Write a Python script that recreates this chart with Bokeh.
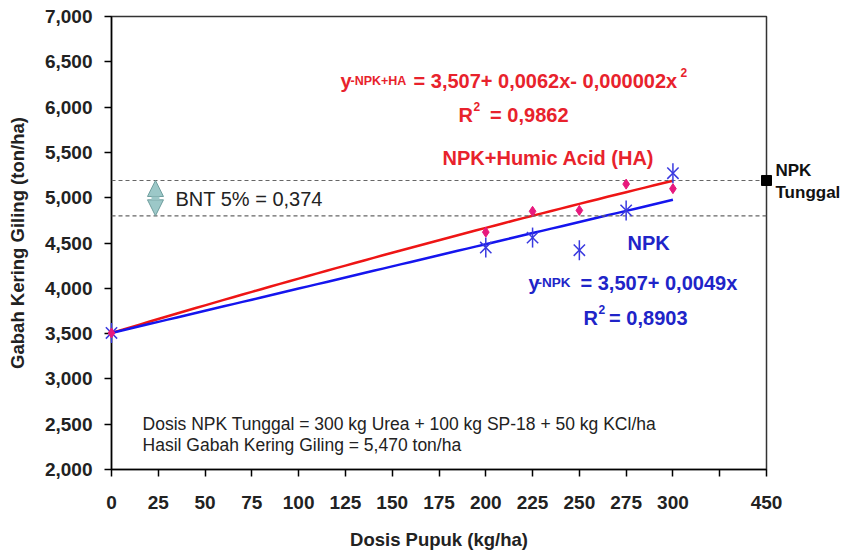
import numpy as np
from bokeh.plotting import figure
from bokeh.models import Range1d, FixedTicker, NumeralTickFormatter, Span, Label, Arrow, NormalHead
from bokeh.core.properties import value
from bokeh.embed import file_html
from bokeh.resources import INLINE

# ---------------- data ----------------
dose = [0, 200, 225, 250, 275, 300]
yield_npk = [3507, 4450, 4560, 4420, 4860, 5270]
yield_npk_ha = [3507, 4620, 4850, 4860, 5150, 5100]

x_ticks = [0, 25, 50, 75, 100, 125, 150, 175, 200, 225, 250, 275, 300, 325, 350]
x_tick_labels = ["0", "25", "50", "75", "100", "125", "150", "175", "200", "225",
                 "250", "275", "300", "", "450"]
y_ticks = [2000, 2500, 3000, 3500, 4000, 4500, 5000, 5500, 6000, 6500, 7000]

fit_npk_ha = [3507, 6.2, -0.002]   # y = 3,507 + 0,0062x - 0,000002x^2 (ton/ha)
fit_npk = [3507, 4.9]              # y = 3,507 + 0,0049x (ton/ha)
fit_x_end = 300

bnt_upper = 5190
bnt_lower = 4800
tunggal_pos = 350     # axis position labelled "450"
tunggal_yield = 5190
tunggal_text = ["NPK", "Tunggal"]

FONT = "Liberation Sans"
RED = "#e8222c"
BLUE = "#2024c8"

p = figure(width=849, height=554, x_range=Range1d(0, 350), y_range=Range1d(2000, 7000),
           output_backend="svg", toolbar_location=None,
           min_border_left=111, min_border_right=83, min_border_top=16, min_border_bottom=85)
p.background_fill_color = "white"
p.border_fill_color = "white"
p.outline_line_color = "#333333"
p.outline_line_width = 1.5
p.xgrid.visible = False
p.ygrid.visible = False

for ax in (p.xaxis[0], p.yaxis[0]):
    ax.axis_line_color = "black"
    ax.axis_line_width = 1.5
    ax.major_tick_line_color = "black"
    ax.major_tick_line_width = 1.5
    ax.major_tick_out = 7
    ax.major_tick_in = 0
    ax.minor_tick_line_color = None
    ax.major_label_text_font = FONT
    ax.major_label_text_font_style = "bold"
    ax.major_label_text_font_size = "19px"
    ax.major_label_text_color = "#222222"
    ax.axis_label_text_font = FONT
    ax.axis_label_text_font_style = "bold"
    ax.axis_label_text_font_size = "18.5px"
    ax.axis_label_text_color = "#222222"

p.xaxis.ticker = FixedTicker(ticks=x_ticks)
p.xaxis.major_label_overrides = {t: l for t, l in zip(x_ticks, x_tick_labels)}
p.xaxis.major_label_standoff = 19
p.xaxis.axis_label = "Dosis Pupuk (kg/ha)"
p.xaxis.axis_label_standoff = 17

p.yaxis.ticker = FixedTicker(ticks=y_ticks)
p.yaxis.formatter = NumeralTickFormatter(format="0,0")
p.yaxis.major_label_standoff = 12
p.yaxis.axis_label = "Gabah Kering Giling (ton/ha)"
p.yaxis.axis_label_standoff = 14

# BNT dashed lines
for yv in (bnt_upper, bnt_lower):
    p.add_layout(Span(location=yv, dimension="width", line_color="#666666",
                      line_dash="4 3", line_width=1.2))

# trend lines
xf = np.linspace(0, fit_x_end, 61)
p.line(xf, fit_npk_ha[0] + fit_npk_ha[1] * xf + fit_npk_ha[2] * xf ** 2,
       line_color="#ee1515", line_width=2.5)
p.line(xf, fit_npk[0] + fit_npk[1] * xf, line_color="#1515ee", line_width=2.5)

# NPK points (asterisk: x + vertical bar)
p.scatter(dose, yield_npk, marker="x", size=16, line_color="#3a3ae0", line_width=1.5, level="overlay")
p.scatter(dose, yield_npk, marker="dash", angle=np.pi / 2, size=20,
          line_color="#3a3ae0", line_width=1.5, level="overlay")
# NPK + HA points
p.scatter(dose, yield_npk_ha, marker="diamond", size=10, fill_color="#e8197d",
          line_color="#e8197d", level="overlay")

# NPK Tunggal square + label (drawn at overlay level so it is not clipped)
p.scatter([tunggal_pos], [tunggal_yield], marker="square", size=10,
          fill_color="black", line_color="black", level="overlay")
p.text(x=[tunggal_pos, tunggal_pos], y=[tunggal_yield, tunggal_yield], text=tunggal_text,
       x_offset=9, y_offset=[-10, 12], text_font=value(FONT), text_font_style="bold",
       text_font_size="17px", text_color="#111111", text_align="left",
       text_baseline="middle", level="overlay")

# BNT arrow
arrow_x = 23.5
p.add_layout(Arrow(x_start=arrow_x, y_start=bnt_lower, x_end=arrow_x, y_end=bnt_upper,
                   line_color="#9cc8c8", line_width=8,
                   start=NormalHead(size=16, fill_color="#9cc8c8", line_color="#6f9e9e", line_width=1),
                   end=NormalHead(size=16, fill_color="#9cc8c8", line_color="#6f9e9e", line_width=1)))


def lab(x, y, text, size, color, bold=True, align="left"):
    p.add_layout(Label(x=x, y=y, text=text, text_font=FONT, text_font_size=size,
                       text_font_style="bold" if bold else "normal", text_color=color,
                       text_align=align, text_baseline="alphabetic"))


# red equation
lab(122.4, 6287, "y", "20px", RED)
lab(127.7, 6285, "-NPK+HA", "12.5px", RED)
lab(161.4, 6287, "= 3,507+ 0,0062x- 0,000002x", "20px", RED)
lab(304.0, 6379, "2", "12px", RED)
lab(185.4, 5915, "R", "20px", RED)
lab(193.4, 6003, "2", "12px", RED)
lab(244.2, 5915, "= 0,9862", "20px", RED, align="right")
lab(176.9, 5433, "NPK+Humic Acid (HA)", "20px", RED)

# blue equation
lab(275.7, 4502, "NPK", "20px", BLUE)
lab(222.8, 4061, "y", "20px", BLUE)
lab(227.6, 4059, "-NPK", "13.5px", BLUE)
lab(250.6, 4061, "= 3,507+ 0,0049x", "20px", BLUE)
lab(252.2, 3674, "R", "20px", BLUE)
lab(260.2, 3763, "2", "12px", BLUE)
lab(307.8, 3674, "= 0,8903", "20px", BLUE, align="right")

# BNT text
lab(34.2, 4983, "BNT 5% = 0,374", "20px", "#222222", bold=False)

# bottom notes
lab(16.6, 2500, "Dosis NPK Tunggal = 300 kg Urea + 100 kg SP-18 + 50 kg KCl/ha", "17.5px", "#222222", bold=False)
lab(16.6, 2268, "Hasil  Gabah Kering Giling = 5,470 ton/ha", "17.5px", "#222222", bold=False)

open("out.html", "w").write(file_html(p, INLINE))
